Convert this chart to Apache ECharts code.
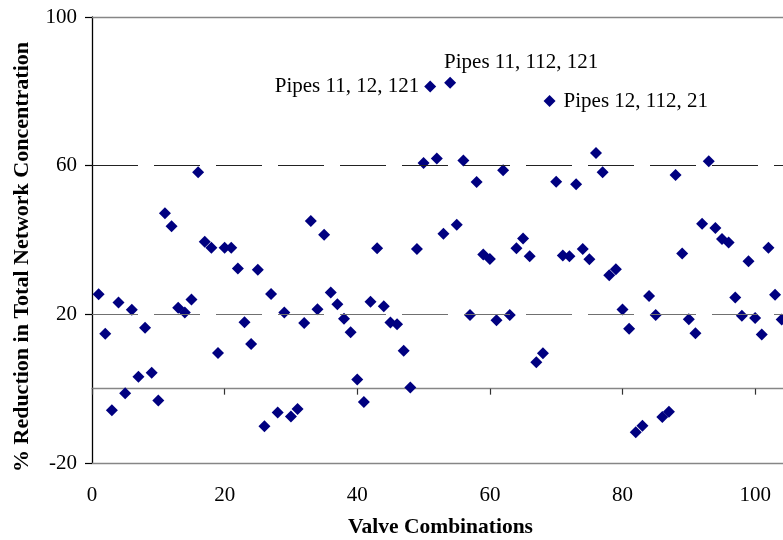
<!DOCTYPE html>
<html>
<head>
<meta charset="utf-8">
<style>
  html, body { margin: 0; padding: 0; background: #fff; }
  #chart { width: 783px; height: 540px; }
</style>
<script src="https://cdn.jsdelivr.net/npm/echarts@6/dist/echarts.min.js"></script>
</head>
<body>
<div id="chart"></div>
<script>
// Percentage reduction for each valve combination (combination number = position, starting at 1)
const reduction = [
  25.4, 14.8, -5.8, 23.2, -1.2, 21.2, 3.2, 16.4, 4.3, -3.2,
  47.2, 43.7, 21.8, 20.5, 24.0, 58.2, 39.5, 37.9, 9.6, 37.9,
  37.9, 32.3, 17.9, 12.0, 32.0, -10.1, 25.5, -6.4, 20.5, -7.5,
  -5.5, 17.7, 45.1, 21.4, 41.4, 25.9, 22.7, 18.8, 15.2, 2.5,
  -3.6, 23.4, 37.8, 22.2, 17.8, 17.3, 10.2, 0.3, 37.6, 60.7,
  81.3, 61.9, 41.7, 82.3, 44.1, 61.4, 19.8, 55.6, 36.1, 34.9,
  18.4, 58.8, 19.8, 37.8, 40.4, 35.6, 7.1, 9.5, 77.4, 55.7,
  35.8, 35.6, 55.0, 37.6, 34.8, 63.4, 58.2, 30.5, 32.1, 21.3,
  16.1, -11.7, -10.0, 24.9, 19.8, -7.6, -6.2, 57.5, 36.4, 18.7,
  14.9, 44.4, 61.2, 43.2, 40.3, 39.3, 24.5, 19.6, 34.3, 19.0,
  14.6, 37.9, 25.3, 18.6
];

// Combinations called out by the pipes they close
const calloutCombos = [51, 54, 69];
const calloutTexts = ['Pipes 11, 12, 121', 'Pipes 11, 112, 121', 'Pipes 12, 112, 21'];

const xTicks = [0, 20, 40, 60, 80, 100];
const yTicks = [-20, 20, 60, 100];
const dashedLevels = [20, 60];

const serif = '"Liberation Serif", "Times New Roman", serif';
const gray = '#868686';
const dashColors = { 20: '#707070', 60: '#222' };

const calloutLabel = [
  { position: 'left', distance: 5 },
  { position: [0, -14], align: 'left', verticalAlign: 'middle' },
  { position: 'right', distance: 8 }
];

const points = reduction.map((v, i) => {
  const combo = i + 1;
  const k = calloutCombos.indexOf(combo);
  if (k < 0) return [combo, v];
  return {
    value: [combo, v],
    label: Object.assign({
      show: true,
      formatter: calloutTexts[k],
      color: '#000',
      fontFamily: serif,
      fontSize: 21
    }, calloutLabel[k])
  };
});

const chart = echarts.init(document.getElementById('chart'), null, { renderer: 'canvas' });

const xCommon = {
  type: 'value',
  min: 0,
  max: 104.2,
  interval: 20,
  splitLine: { show: false }
};

chart.setOption({
  animation: false,
  backgroundColor: '#fff',
  grid: { left: 92, top: 17, width: 691, height: 446, containLabel: false },
  xAxis: [
    Object.assign({}, xCommon, {
      position: 'bottom',
      axisLine: { show: true, onZero: true, lineStyle: { color: gray, width: 1.3 } },
      axisTick: { show: true, length: 6, lineStyle: { color: '#333', width: 1.2 }, customValues: xTicks },
      axisLabel: { show: false }
    }),
    Object.assign({}, xCommon, {
      position: 'bottom',
      axisLine: { show: true, onZero: false, lineStyle: { color: gray, width: 1.3 } },
      axisTick: { show: false },
      axisLabel: {
        show: true,
        margin: 22,
        color: '#000',
        fontFamily: serif,
        fontSize: 21,
        customValues: xTicks
      }
    })
  ],
  yAxis: {
    type: 'value',
    min: -20,
    max: 100,
    interval: 40,
    axisLine: { show: true, onZero: false, lineStyle: { color: '#000', width: 1.3 } },
    axisTick: { show: true, length: 7, lineStyle: { color: '#000', width: 1.2 }, customValues: yTicks },
    axisLabel: { margin: 15, color: '#000', fontFamily: serif, fontSize: 21, customValues: yTicks },
    splitLine: { show: false }
  },
  graphic: [
    {
      type: 'text',
      x: 22, y: 257,
      rotation: Math.PI / 2,
      style: {
        text: '% Reduction in Total Network Concentration',
        fill: '#000',
        font: 'bold 22px ' + serif,
        align: 'center',
        verticalAlign: 'middle'
      }
    },
    {
      type: 'text',
      x: 440.5, y: 527.5,
      style: {
        text: 'Valve Combinations',
        fill: '#000',
        font: 'bold 21.5px ' + serif,
        align: 'center',
        verticalAlign: 'middle'
      }
    }
  ],
  series: [{
    type: 'scatter',
    xAxisIndex: 0,
    symbol: 'diamond',
    symbolSize: 12,
    clip: false,
    itemStyle: { color: '#000080', opacity: 1 },
    emphasis: { disabled: true },
    data: points,
    markLine: {
      silent: true,
      symbol: 'none',
      label: { show: false },
      animation: false,
      data: dashedLevels.map(v => ({
        yAxis: v,
        lineStyle: { color: dashColors[v], width: 1.2, type: [46, 16], opacity: 1 }
      })).concat([
        { yAxis: 100, lineStyle: { color: gray, width: 1.3, type: 'solid', opacity: 1 } }
      ])
    }
  }]
});
</script>
</body>
</html>
